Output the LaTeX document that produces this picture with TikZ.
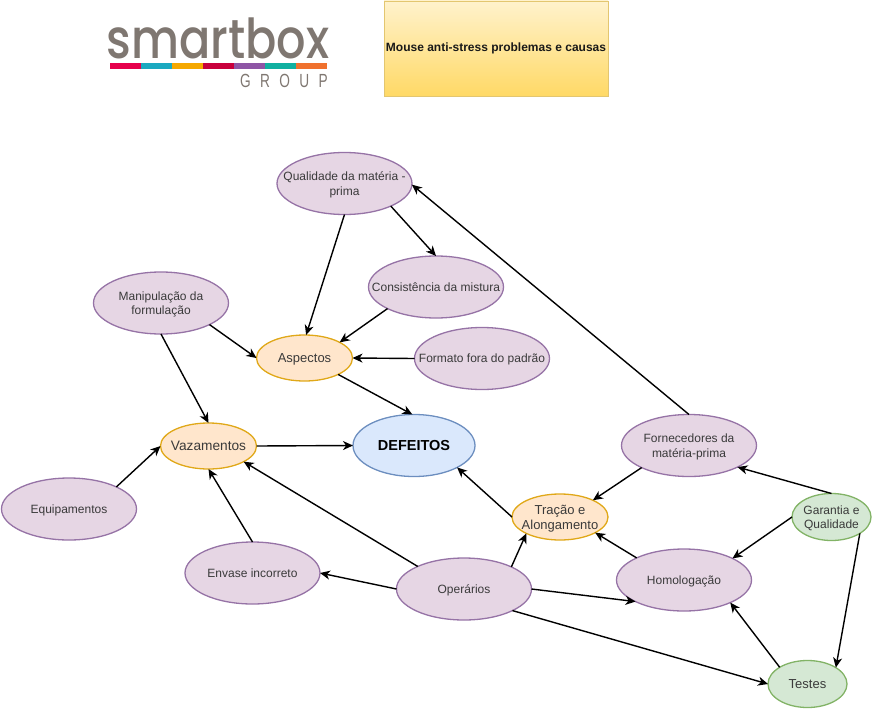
\documentclass[tikz,border=0pt]{standalone}
\usepackage{fontspec}
\setmainfont{Liberation Sans}
\newfontfamily\logofont{Poppins Medium}
\usetikzlibrary{shapes.geometric,arrows.meta}
\definecolor{purfill}{HTML}{E6D6E4}
\definecolor{purline}{HTML}{9673A6}
\definecolor{orafill}{HTML}{FFE6CC}
\definecolor{oraline}{HTML}{E0A818}
\definecolor{blufill}{HTML}{DAE8FC}
\definecolor{bluline}{HTML}{6C8EBF}
\definecolor{grefill}{HTML}{D5E8D4}
\definecolor{greline}{HTML}{82B366}
\definecolor{txtgray}{HTML}{3A3A3A}
\definecolor{logogray}{HTML}{7F7771}
\definecolor{sa}{HTML}{E6004C}
\definecolor{sb}{HTML}{1AA9C0}
\definecolor{sc}{HTML}{F5A800}
\definecolor{sd}{HTML}{C8003C}
\definecolor{se}{HTML}{8E55A5}
\definecolor{sf}{HTML}{10B0A0}
\definecolor{sg}{HTML}{F0712E}
\definecolor{boxtop}{HTML}{FFF2CC}
\definecolor{boxbot}{HTML}{FFD966}
\definecolor{boxline}{HTML}{E3C670}
\newsavebox\tb
\newcommand\tx[1]{\sbox\tb{\begin{tabular}{@{}c@{}}#1\end{tabular}}\makebox[0pt]{\smash{\raisebox{\dimexpr-.5\ht\tb+.5\dp\tb-1.5pt\relax}{\usebox\tb}}}}
\tikzset{
  x=1pt,y=-1pt,
  oval/.style={ellipse,draw,line width=1.3pt,inner sep=0pt,outer sep=0pt,text=txtgray,
    font=\fontsize{12}{14.5}\selectfont},
  pur/.style={oval,fill=purfill,draw=purline,minimum width=135pt,minimum height=62pt},
  ora/.style={oval,fill=orafill,draw=oraline,minimum width=96pt,minimum height=46pt},
  blu/.style={oval,fill=blufill,draw=bluline,minimum width=122pt,minimum height=62pt},
  gre/.style={oval,fill=grefill,draw=greline,minimum width=79pt,minimum height=47pt},
  link/.style={draw=black,line width=1.4pt,-{Stealth[length=10pt,width=9pt,inset=3pt]}},
  seg/.style={minimum height=5.5pt,minimum width=31pt,inner sep=0pt,outer sep=0pt,anchor=west},
}
\begin{document}
\begin{tikzpicture}
\useasboundingbox (0,0) rectangle (872,709);
% logo
\node[inner sep=0pt,text=logogray,anchor=base,font=\logofont\fontsize{55}{55}\selectfont,xscale=0.84] (logo) at (218,59) {smartbox};
\node[seg,fill=sa] (s1) at (110,66) {};
\node[seg,fill=sb] (s2) at (141,66) {};
\node[seg,fill=sc] (s3) at (172,66) {};
\node[seg,fill=sd] (s4) at (203,66) {};
\node[seg,fill=se] (s5) at (234,66) {};
\node[seg,fill=sf] (s6) at (265,66) {};
\node[seg,fill=sg] (s7) at (296,66) {};
\node[inner sep=0pt,text=logogray,anchor=base,font=\fontsize{19}{19}\selectfont,xscale=0.72] (grp) at (284,87.5) {G\hspace{13pt}R\hspace{13pt}O\hspace{13pt}U\hspace{13pt}P};
% title
\node[draw=boxline,line width=0.8pt,top color=boxtop,bottom color=boxbot,minimum width=224pt,minimum height=95pt,inner sep=0pt,font=\bfseries\fontsize{12}{14}\selectfont,text=black!90] (title) at (496,48.5) {\raisebox{-1.5pt}{Mouse anti-stress problemas e causas}};
% nodes
\node[pur] (qual) at (344.5,183.5) {\tx{Qualidade da matéria -\\prima}};
\node[pur] (cons) at (436,287) {\tx{Consistência da mistura}};
\node[pur] (manip) at (161,303) {\tx{Manipulação da\\formulação}};
\node[ora,font=\fontsize{13}{15}\selectfont] (asp) at (304.5,358) {\tx{Aspectos}};
\node[pur] (form) at (482,358.5) {\tx{Formato fora do padrão}};
\node[ora,font=\fontsize{13.7}{15}\selectfont] (vaz) at (208.5,446) {\tx{Vazamentos}};
\node[blu,font=\bfseries\fontsize{14.5}{17}\selectfont,text=black] (def) at (414,445.5) {\tx{DEFEITOS}};
\node[pur] (equip) at (69,509) {\tx{Equipamentos}};
\node[pur] (env) at (252.5,573) {\tx{Envase incorreto}};
\node[pur] (oper) at (464,589) {\tx{Operários}};
\node[ora,font=\fontsize{13}{15}\selectfont] (trac) at (560,517) {\tx{Tração e\\Alongamento}};
\node[pur] (forn) at (689,445.5) {\tx{Fornecedores da\\matéria-prima}};
\node[pur] (homo) at (684,580) {\tx{Homologação}};
\node[gre] (gar) at (831.5,517) {\tx{Garantia e\\Qualidade}};
\node[gre,font=\fontsize{13}{15}\selectfont] (test) at (807.5,684) {\tx{Testes}};
% connectors
\draw[link] (qual.-90) -- (asp.86);
\draw[link] (qual.-26) -- (cons.90);
\draw[link] (forn.90) -- (qual.-1);
\draw[link] (cons.204.6) -- (asp.24.9);
\draw[link] (manip.-24.6) -- (asp.180);
\draw[link] (manip.-90) -- (vaz.90);
\draw[link] (form.180) -- (asp.0);
\draw[link] (asp.-26.9) -- (def.93.6);
\draw[link] (vaz.0) -- (def.180);
\draw[link] (equip.25.6) -- (vaz.180);
\draw[link] (env.90) -- (vaz.-90);
\draw[link] (oper.154.4) -- (vaz.-24.9);
\draw[link] (oper.180) -- (env.0);
\draw[link] (oper.25.6) -- (trac.206.9);
\draw[link] (oper.0) -- (homo.204.2);
\draw[link] (oper.-24.2) -- (test.180);
\draw[link] (trac.180) -- (def.-27);
\draw[link] (forn.205) -- (trac.27.9);
\draw[link] (homo.155.8) -- (trac.-24.6);
\draw[link] (gar.90) -- (forn.-24.7);
\draw[link] (gar.180) -- (homo.24.2);
\draw[link] (gar.-30) -- (test.30.8);
\draw[link] (test.149.2) -- (homo.-26);
\end{tikzpicture}
\end{document}
